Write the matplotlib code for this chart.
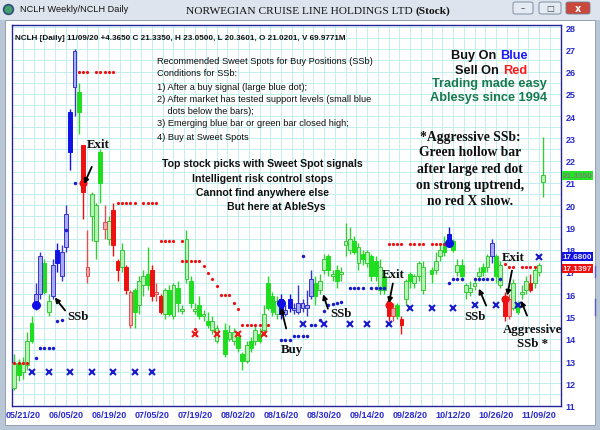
import numpy as np
import matplotlib
matplotlib.use("Agg")
import matplotlib.pyplot as plt
from matplotlib.patches import Rectangle, FancyBboxPatch
from matplotlib.lines import Line2D
from matplotlib.transforms import blended_transform_factory

W, H, DPI = 600, 431, 100
SANS, SERIF = "Liberation Sans", "Liberation Serif"

# ---------------------------------------------------------------- data
# trading-day index (0 = 05/21/20), bar kind (g/G green hollow/filled, r/R red, b/B blue)
DAY = [-2, -1, 0, 1, 2, 3, 4, 5, 6, 7, 8, 9, 10, 11, 12, 13, 14, 15, 16, 17, 18, 19,
       20, 21, 22, 23, 24, 25, 26, 27, 28, 29, 30, 31, 32, 33, 34, 35, 36, 37, 38, 39,
       40, 41, 42, 43, 44, 45, 47, 48, 49, 50, 51, 52, 53, 54, 55, 56, 57, 58, 59, 60,
       61, 62, 63, 64, 65, 66, 67, 68, 69, 70, 71, 72, 73, 74, 75, 76, 77, 78, 79, 80,
       81, 82, 83, 84, 85, 86, 87, 88, 89, 90, 91, 92, 93, 95, 96, 97, 98, 99, 100, 101,
       102, 103, 104, 105, 106, 107, 108, 109, 110, 111, 112, 113, 114, 115, 116, 117,
       118, 119, 120, 121]
KIND = ("gGggGbbGgb" "BbbBbGRrgg" "GrgRRgRrGg" "gGRrRgGgGg" "gGgGgGgg"
        "GggGGgGgGg" "GGgBbBbbbb" "bGggGgGggg" "GgGgGGgGRr" "GRgGggg"
        "GggGBGgGgg" "ggGgbGgRrg" "GggRggg")
OPEN = [11.8, 12.9, 12.5, 12.8, 14.7, 15.6, 16.0, 17.4, 15.2, 15.9,
        18.0, 16.8, 18.1, 24.2, 25.3, 25.1, 22.7, 16.8, 19.5, 18.4,
        22.4, 18.95, 18.5, 19.8, 17.5, 17.2, 17.2, 14.6, 16.2, 15.5,
        16.4, 16.9, 17.1, 16.0, 15.9, 15.1, 16.2, 15.0, 16.3, 15.25,
        16.7, 16.6, 15.25, 15.5, 15.0, 14.8, 14.4, 13.9,
        14.4, 14.0, 13.9, 14.1, 13.3, 13.0, 13.9, 13.9, 14.2, 14.4,
        16.5, 15.9, 15.1, 15.8, 15.1, 15.8, 15.3, 15.2, 15.4, 15.4,
        15.9, 16.5, 16.2, 17.1, 17.7, 16.8, 17.1, 16.9, 18.2, 18.0,
        18.4, 17.4, 17.8, 17.4, 17.7, 17.5, 16.2, 16.8, 15.7, 15.0,
        15.5, 14.9, 15.8, 16.9, 16.5, 16.8, 16.2,
        17.1, 17.1, 17.7, 18.3, 18.7, 18.4, 17.0, 17.3, 16.1, 16.1,
        16.35, 16.8, 17.2, 17.2, 17.7, 17.7, 16.4, 15.9, 15.0, 15.4,
        15.5, 16.0, 16.2, 16.5, 16.5, 17.0, 21.0201]
CLOSE = [12.9, 12.35, 12.9, 13.9, 13.9, 16.0, 17.7, 16.1, 15.7, 17.3,
         17.4, 17.9, 19.6, 22.4, 26.9, 24.2, 20.6, 17.2, 20.5, 20.0,
         21.0, 19.25, 19.3, 18.2, 17.1, 18.0, 16.2, 16.1, 15.2, 16.6,
         16.8, 16.4, 15.9, 16.1, 15.2, 16.2, 15.1, 16.4, 15.6, 15.35,
         18.5, 15.6, 15.35, 15.0, 15.1, 14.6, 14.8, 14.5,
         13.3, 14.3, 14.3, 13.6, 13.0, 13.7, 13.6, 14.4, 13.9, 15.1,
         15.4, 15.2, 15.7, 15.1, 15.3, 15.4, 15.4, 15.6, 15.6, 15.5,
         16.7, 15.9, 16.6, 17.6, 17.1, 16.9, 16.6, 17.0, 18.4, 18.5,
         17.9, 18.1, 17.6, 17.9, 16.8, 16.8, 17.2, 16.2, 15.0, 15.4,
         15.0, 14.6, 16.6, 16.6, 16.8, 17.4, 17.2,
         16.9, 17.5, 18.0, 17.9, 18.2, 18.0, 17.3, 16.8, 16.4, 16.3,
         16.5, 17.0, 17.0, 17.7, 18.3, 16.8, 17.3, 15.0, 15.8, 16.5,
         15.2, 16.1, 16.6, 16.2, 17.1, 17.3, 21.335]
HIGH = [13.3, 13.1, 13.2, 14.3, 15.0, 16.5, 17.9, 17.6, 16.0, 17.6,
        18.3, 18.2, 20.0, 24.3, 27.0, 25.5, 22.7, 18.9, 20.6, 20.1,
        22.5, 20.0, 19.5, 20.1, 17.6, 18.3, 17.3, 16.2, 16.3, 16.8,
        17.1, 18.1, 17.3, 16.5, 16.0, 16.3, 16.4, 16.5, 16.6, 15.5,
        18.9, 16.8, 15.6, 15.9, 15.3, 15.2, 15.0, 14.6,
        14.7, 14.6, 14.5, 14.3, 13.4, 13.9, 14.1, 14.6, 14.5, 15.5,
        16.8, 16.1, 15.9, 16.0, 15.5, 16.0, 15.6, 16.4, 15.8, 16.2,
        17.1, 16.8, 16.9, 17.8, 17.8, 17.1, 17.3, 17.2, 19.2, 19.0,
        18.6, 18.3, 18.0, 18.0, 17.8, 17.7, 17.6, 17.0, 15.9, 15.6,
        15.6, 15.0, 16.7, 17.0, 16.9, 17.5, 17.5,
        17.2, 17.9, 18.3, 18.6, 19.0, 18.5, 17.6, 17.6, 16.5, 16.6,
        16.7, 17.2, 17.4, 17.8, 18.5, 17.8, 17.5, 16.1, 16.0, 16.7,
        15.7, 16.4, 16.8, 16.9, 17.2, 17.4, 23.05]
LOW = [11.7, 12.1, 12.2, 12.6, 13.8, 15.3, 15.8, 16.0, 15.0, 15.8,
       17.0, 16.6, 17.9, 21.6, 24.0, 23.2, 19.4, 16.5, 18.4, 17.6,
       20.1, 18.5, 18.2, 17.7, 16.6, 17.0, 16.0, 14.5, 14.5, 15.1,
       15.9, 16.2, 15.7, 15.7, 15.1, 14.9, 15.0, 14.9, 15.2, 15.1,
       16.5, 15.4, 15.1, 14.9, 14.8, 14.5, 14.2, 13.8,
       13.2, 13.9, 13.7, 13.4, 12.6, 12.9, 13.4, 13.7, 13.8, 14.2,
       15.3, 15.0, 14.9, 14.9, 15.0, 15.2, 15.1, 15.1, 15.2, 15.0,
       15.8, 15.5, 16.0, 16.9, 16.8, 16.6, 16.3, 16.6, 17.7, 17.8,
       17.8, 17.1, 17.3, 17.2, 16.6, 16.6, 16.0, 16.0, 14.8, 14.8,
       14.9, 14.2, 15.5, 16.3, 16.3, 16.6, 16.0,
       16.5, 16.9, 17.5, 17.7, 18.1, 17.9, 16.8, 16.6, 15.8, 15.9,
       16.2, 16.6, 16.8, 17.0, 17.4, 16.5, 16.3, 14.8, 14.9, 15.3,
       15.1, 15.8, 16.0, 16.1, 16.3, 16.8, 20.3601]

# stop dots (red = sell stops, blue = buy support)
RED_DOT_DAY = [-2, -1, 0, 1, 13, 14, 15, 17, 18, 19, 20, 21,
               22, 23, 24, 25, 26, 28, 29, 30, 31, 32, 33, 34, 35, 37,
               37, 38, 39, 40, 41, 42, 43, 44, 45, 46, 47, 48, 49, 50,
               51, 52, 53, 54, 55, 57, 40,
               85, 86, 87, 88, 90, 91, 92, 93, 95, 96, 97, 98,
               112, 113, 114, 116, 117, 118, 119]
RED_DOT_PX = [12.9, 12.9, 12.9, 12.9, 26.0, 26.0, 26.0, 26.0, 26.0, 26.0, 26.0, 26.0,
              20.1, 20.1, 20.1, 20.1, 20.1, 20.1, 20.1, 20.1, 20.1, 18.4, 18.4, 18.4, 18.4, 18.4,
              17.5, 17.5, 17.5, 17.5, 17.5, 17.25, 16.95, 16.7, 16.35, 15.95, 15.95, 15.95, 15.6, 15.35,
              14.6, 14.6, 14.6, 14.6, 14.6, 14.6, 14.45,
              18.25, 18.25, 18.25, 18.25, 18.25, 18.25, 18.25, 18.25, 18.25, 18.25, 18.25, 18.25,
              17.35, 17.2, 17.2, 17.2, 17.2, 17.2, 17.2]
BLUE_DOT_DAY = [3, 4, 5, 6, 7, 8, 9, 10, 12,
                60, 61, 62, 63, 64, 65, 66, 67, 68, 69, 70, 71, 72, 73, 74, 65,
                76, 77, 78, 79, 81, 82, 83, 84,
                99, 100, 101, 102, 105, 106, 107, 108, 109, 111]
BLUE_DOT_PX = [13.15, 13.6, 13.6, 13.6, 13.6, 14.8, 14.85, 18.9, 21.0,
               13.95, 13.95, 13.95, 14.14, 14.14, 14.14, 14.14, 14.6, 14.6, 14.82, 15.26,
               15.5, 15.55, 15.6, 15.67, 17.7,
               16.3, 16.3, 16.3, 16.3, 16.3, 16.3, 16.3, 16.3,
               16.5, 16.7, 16.7, 16.7, 16.7, 16.7, 16.7, 16.7, 16.7, 16.7]
# weekly stops (X marks)
BLUE_X_DAY = [2, 6, 11, 16, 21, 26, 30, 65, 70, 76, 80, 85, 90, 95, 100, 105, 110, 115, 120]
BLUE_X_PX = [12.5, 12.5, 12.5, 12.5, 12.5, 12.5, 12.5, 14.65, 14.65, 14.65, 14.65, 14.65,
             15.4, 15.4, 15.4, 15.5, 15.5, 15.5, 17.65]
RED_X_DAY = [40, 45, 50, 56]
RED_X_PX = [14.2, 14.2, 14.2, 14.2]
# large signal dots
BUY_DAY, BUY_PX = [3, 60, 99], [15.5, 15.6, 18.3]
SELL_DAY, SELL_PX = [14, 85, 112], [21.0, 15.5, 15.8]

TICK_DAY = list(range(0, 121, 10))
TICK_LABEL = ["05/21/20", "06/05/20", "06/19/20", "07/05/20", "07/19/20", "08/02/20",
              "08/16/20", "08/30/20", "09/14/20", "09/28/20", "10/12/20", "10/26/20",
              "11/09/20"]
PRICE_TAGS = [(21.335, "21.3350", "#22e622", "#7a7a7a"),
              (17.68, "17.6800", "#1212e0", "#e8e8ff"),
              (17.1397, "17.1397", "#ee1111", "#ffe8e8")]

STYLE = {"g": ("#b4f4b4", "#38c838"), "G": ("#1fdd1f", "#1fdd1f"),
         "r": ("#f7a8a8", "#e05050"), "R": ("#ee1111", "#ee1111"),
         "b": ("#aaaaf8", "#3535cc"), "B": ("#1212e6", "#1212e6")}
AXBLUE = "#2a2ad0"

# ---------------------------------------------------------------- window
fig = plt.figure(figsize=(W / DPI, H / DPI), dpi=DPI)
fig.patch.set_facecolor("#b9c6d6")


def px(x, y):
    return x / W, 1 - y / H


def rect(x0, y0, x1, y1, **kw):
    fig.add_artist(Rectangle(px(x0, y1), (x1 - x0) / W, (y1 - y0) / H,
                             transform=fig.transFigure, zorder=-5, **kw))


def ptext(x, y, s, **kw):
    kw.setdefault("va", "center")
    fig.text(*px(x, y), s, **kw)


rect(0, 0, 600, 21, fc="#dde4ed", ec="none")
rect(5, 21, 595, 426, fc="white", ec="#8896aa", lw=0.6)
fig.add_artist(Line2D([px(8, 10)[0]], [px(8, 10)[1]], marker="o", ms=7,
                      mfc="#45a070", mec="#2c4f7a", mew=1.2, transform=fig.transFigure))
ptext(20, 10, "NCLH Weekly/NCLH Daily", family=SANS, fontsize=6.6, color="#111111")
ptext(413, 11, "NORWEGIAN CRUISE LINE HOLDINGS LTD", family=SERIF, fontsize=8.2,
      ha="right", color="#111111")
ptext(416, 11, "(Stock)", family=SERIF, fontsize=8.2, weight="bold", color="#111111")
for x0, x1, fc in [(513, 533, "#e4eaf2"), (539, 561, "#e4eaf2"), (566, 590, "#c9473b")]:
    fig.add_artist(FancyBboxPatch(px(x0, 15), (x1 - x0) / W, 12 / H,
                                  boxstyle="round,pad=0,rounding_size=0.004",
                                  transform=fig.transFigure, fc=fc, ec="#6f7f95", lw=0.6))
ptext(523, 9, "\u2013", fontsize=6, ha="center", color="#445")
ptext(550, 9, "\u25a1", fontsize=6, ha="center", color="#445")
ptext(578, 9, "x", fontsize=7, ha="center", color="white", weight="bold")
for y0, y1 in [(267, 278), (300, 316)]:
    fig.add_artist(Line2D([px(595, 0)[0]] * 2, [px(0, y0)[1], px(0, y1)[1]],
                          color="#5a5ad8", lw=1.0, transform=fig.transFigure))

# ---------------------------------------------------------------- chart
ax = fig.add_axes([12 / W, 1 - 407 / H, 549 / W, 381 / H])
ax.set_xlim(-2.55, 125.1)
ax.set_ylim(10.98, 28.09)
ax.set_facecolor("white")
for s in ax.spines.values():
    s.set_color("#23239a")
    s.set_linewidth(1.0)

ax.set_yticks(range(11, 29))
ax.set_yticks(np.arange(11, 28.1, 0.5), minor=True)
ax.set_xticks(TICK_DAY, TICK_LABEL)
ax.set_xticks(np.arange(-2.5, 125, 2.5), minor=True)
ax.yaxis.tick_right()
ax.tick_params(which="both", length=0)
ax.tick_params(axis="y", pad=3.5, labelsize=6.5, labelcolor=AXBLUE)
ax.tick_params(axis="x", pad=3, labelsize=6.5, labelcolor=AXBLUE)
for lab in ax.get_xticklabels() + ax.get_yticklabels():
    lab.set_fontweight("bold")
    lab.set_family(SANS)
ax.grid(which="both", color="#c4eeee", lw=0.7, zorder=0)
ax.set_axisbelow(True)

day = np.array(DAY, float)
o, h, l, c = map(np.array, (OPEN, HIGH, LOW, CLOSE))
for k in STYLE:
    m = np.array([kk == k for kk in KIND])
    fc, ec = STYLE[k]
    ax.vlines(day[m], l[m], h[m], color=ec, lw=1.0, zorder=2)
    lo = np.minimum(o[m], c[m])
    ht = np.maximum(np.abs(c[m] - o[m]), 0.07)
    ax.bar(day[m], ht, bottom=lo, width=0.88, color=fc, edgecolor=ec, lw=0.7, zorder=3)

ax.plot(RED_DOT_DAY, RED_DOT_PX, ls="none", marker="o", ms=2.3, color="#ee1111", mew=0, zorder=4)
ax.plot(BLUE_DOT_DAY, BLUE_DOT_PX, ls="none", marker="o", ms=2.5, color="#1a1acc", mew=0, zorder=4)
ax.plot(BLUE_X_DAY, BLUE_X_PX, ls="none", marker="x", ms=4.5, mew=1.5, color="#1a1acc", zorder=4)
ax.plot(RED_X_DAY, RED_X_PX, ls="none", marker="x", ms=4.8, mew=1.5, color="#e81a1a", zorder=4)
ax.plot(BUY_DAY, BUY_PX, ls="none", marker="o", ms=6.5, color="#1010e6", mew=0, zorder=5)
ax.plot(SELL_DAY, SELL_PX, ls="none", marker="o", ms=5.8, color="#ee1111", mew=0, zorder=5)

# price tags on the right axis
tb = blended_transform_factory(ax.transAxes, ax.transData)
for val, txt, bg, fg in PRICE_TAGS:
    ax.text(1.003, val, txt, transform=tb, ha="left", va="center", family=SANS,
            fontsize=5.9, weight="bold", color=fg, clip_on=False, zorder=6,
            bbox=dict(boxstyle="square,pad=0.12", fc=bg, ec="none"))

# annotations
ann = dict(family=SERIF, weight="bold", fontsize=9.3, color="#111111",
           ha="center", va="center", clip_on=False, zorder=7)
arrow = dict(arrowstyle="-|>", color="black", lw=1.3, mutation_scale=7, shrinkA=0, shrinkB=0)
for s, txy, tail, head in [
        ("Exit", (17.4, 22.75), (16.0, 21.72), (14.2, 20.95)),
        ("SSb", (12.8, 15.0), (9.8, 15.27), (7.4, 15.85)),
        ("Buy", (62.6, 13.56), (61.2, 14.46), (60.0, 15.4)),
        ("SSb", (74.0, 15.17), (70.9, 15.35), (69.8, 16.0)),
        ("Exit", (86.0, 16.9), (86.0, 16.48), (85.1, 15.6)),
        ("SSb", (105.1, 15.0), (107.7, 15.49), (106.0, 16.25)),
        ("Exit", (114.0, 17.69), (113.7, 17.06), (112.6, 15.94)),
        ("", None, (117.2, 15.04), (115.8, 15.71))]:
    if s:
        ax.text(*txy, s, **ann)
    ax.annotate("", xy=head, xytext=tail, arrowprops=arrow, zorder=7)
ax.text(118.4, 14.46, "Aggressive", **ann)
ax.text(118.4, 13.8, "SSb *", **ann)

# text blocks
ptext(15, 38, "NCLH [Daily] 11/09/20 +4.3650 C 21.3350, H 23.0500, L 20.3601, "
      "O 21.0201, V 69.9771M", family=SANS, fontsize=5.9, weight="bold", color="#111111")
for y, s in [(62, "Recommended Sweet Spots for Buy Positions (SSb)"),
             (74, "Conditions for SSb:"),
             (88, "1) After a buy signal (large blue dot);"),
             (100, "2) After market has tested support levels (small blue"),
             (112, "    dots below the bars);"),
             (124, "3) Emerging blue bar or green bar closed high;"),
             (137, "4) Buy at Sweet Spots")]:
    ptext(157, y, s, family=SANS, fontsize=6.7, color="#111111")
for x, y, s in [(262, 164, "Top stock picks with Sweet Spot signals"),
                (262, 179, "Intelligent risk control stops"),
                (262, 193, "Cannot find anywhere else"),
                (276, 207, "But here at AbleSys")]:
    ptext(x, y, s, family=SANS, fontsize=7.6, weight="bold", ha="center", color="#111111")
big = dict(family=SANS, fontsize=9.2, weight="bold")
ptext(496, 56, "Buy On", ha="right", color="#111111", **big)
ptext(500, 56, "Blue", ha="left", color="#1a1aff", **big)
ptext(499, 71, "Sell On", ha="right", color="#111111", **big)
ptext(503, 71, "Red", ha="left", color="#ff1a1a", **big)
ptext(489, 84, "Trading made easy", ha="center", color="#167a4e", **big)
ptext(489, 98, "Ablesys since 1994", ha="center", color="#167a4e", **big)
for y, s in [(137, "*Aggressive SSb:"), (153, "Green hollow bar"),
             (169, "after large red dot"), (186, "on strong uptrend,"),
             (202, "no red X show.")]:
    ptext(470, y, s, family=SERIF, fontsize=9.8, weight="bold", ha="center", color="#111111")

fig.savefig("out.png", dpi=DPI)
